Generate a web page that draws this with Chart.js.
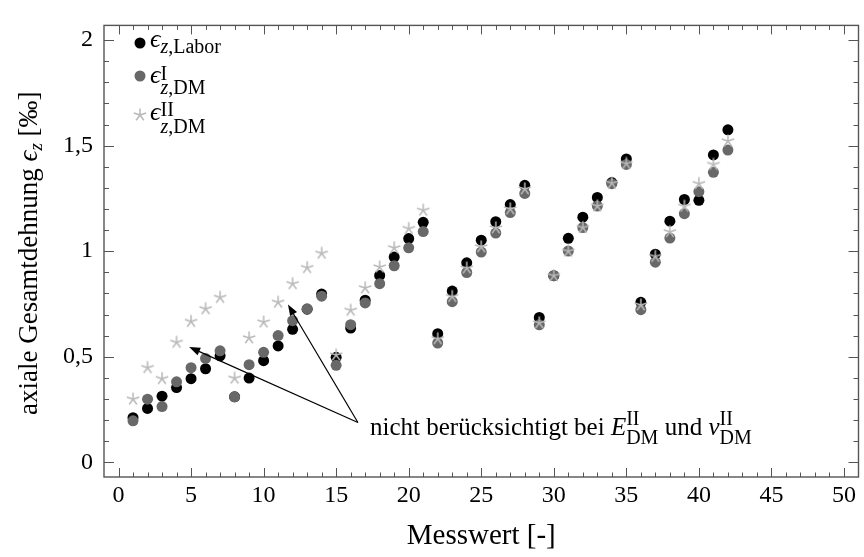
<!DOCTYPE html>
<html>
<head>
<meta charset="utf-8">
<script src="https://cdn.jsdelivr.net/npm/chart.js@4/dist/chart.umd.min.js"></script>
<style>
  body { margin: 0; background: #fff; }
  #wrap { width: 864px; height: 557px; }
</style>
</head>
<body>
<div id="wrap"><canvas id="grafik" width="864" height="557"></canvas></div>
<script>
// Messwerte
const messwert = [1, 2, 3, 4, 5, 6, 7, 8, 9, 10, 11, 12, 13, 14, 15, 16, 17, 18, 19, 20, 21,
                  22, 23, 24, 25, 26, 27, 28, 29, 30, 31, 32, 33, 34, 35, 36, 37, 38, 39, 40, 41, 42];

// epsilon_z,Labor
const labor = [0.211, 0.255, 0.313, 0.354, 0.396, 0.443, 0.504, 0.310, 0.399, 0.481, 0.551, 0.630, 0.725, 0.797,
               0.497, 0.636, 0.768, 0.885, 0.972, 1.060, 1.137, 0.609, 0.811, 0.945, 1.052, 1.140, 1.221, 1.312,
               0.686, 0.884, 1.061, 1.161, 1.255, 1.325, 1.437, 0.758, 0.986, 1.142, 1.245, 1.241, 1.456, 1.575];

// epsilon^I_z,DM
const dm1 = [0.196, 0.299, 0.264, 0.381, 0.448, 0.492, 0.528, 0.310, 0.462, 0.521, 0.600, 0.671, 0.727, 0.787,
             0.459, 0.652, 0.755, 0.846, 0.931, 1.016, 1.093, 0.565, 0.761, 0.899, 0.996, 1.086, 1.183, 1.274,
             0.651, 0.884, 1.001, 1.112, 1.214, 1.320, 1.411, 0.723, 0.948, 1.062, 1.178, 1.282, 1.374, 1.479];

// epsilon^II_z,DM
const dm2 = [0.299, 0.448, 0.396, 0.568, 0.667, 0.727, 0.781, 0.398, 0.589, 0.664, 0.758, 0.846, 0.922, 0.990,
             0.508, 0.720, 0.826, 0.925, 1.016, 1.107, 1.194, 0.585, 0.785, 0.920, 1.020, 1.110, 1.200, 1.295,
             0.660, 0.884, 1.000, 1.112, 1.214, 1.322, 1.415, 0.745, 0.975, 1.092, 1.213, 1.320, 1.411, 1.522];

const xTicks = [0, 5, 10, 15, 20, 25, 30, 35, 40, 45, 50];
const yTicks = [0, 0.5, 1, 1.5, 2];

// Pfeile der Anmerkung (Datenkoordinaten)
const pfeilStart = { x: 16.5, y: 0.188 };
const pfeilZiele = [{ x: 4.87, y: 0.546 }, { x: 11.68, y: 0.747 }];

const SERIF = "'Liberation Serif', 'DejaVu Serif', serif";
const F = (size, italic) => (italic ? "italic " : "") + size + "px " + SERIF;

const SCHWARZ = "#000000";
const GRAU = "#686868";
const HELLGRAU = "#b8b8b8";
const RAHMEN = "#555555";

// Stern-Marker (5 Strahlen)
function sternBild(farbe) {
    const c = document.createElement("canvas");
    c.width = 16; c.height = 16;
    const g = c.getContext("2d");
    g.strokeStyle = farbe;
    g.lineWidth = 1.5;
    g.beginPath();
    for (let k = 0; k < 5; k++) {
        const a = -Math.PI / 2 + k * 2 * Math.PI / 5;
        g.moveTo(8, 8);
        g.lineTo(8 + 6.5 * Math.cos(a), 8 + 6.5 * Math.sin(a));
    }
    g.stroke();
    return c;
}
const stern = sternBild(HELLGRAU);

// Text mit Hoch-/Tiefstellung zeichnen
function teile(ctx, x, y, parts) {
    for (const p of parts) {
        if (p.sub !== undefined) {
            let w = 0;
            if (p.sup) {
                ctx.font = F(20, false);
                ctx.fillText(p.sup, x, y + p.supDy);
                w = ctx.measureText(p.sup).width;
            }
            let sx = x;
            for (const s of p.sub) {
                ctx.font = s.font;
                ctx.fillText(s.t, sx, y + p.subDy);
                sx += ctx.measureText(s.t).width;
            }
            x += Math.max(w, sx - x);
        } else {
            ctx.font = p.font;
            ctx.fillText(p.t, x, y + (p.dy || 0));
            x += ctx.measureText(p.t).width;
        }
    }
    return x;
}

const rahmenPlugin = {
    id: "rahmen",
    afterDatasetsDraw(chart) {
        const { ctx, chartArea: a, scales: { x, y } } = chart;
        ctx.save();
        ctx.strokeStyle = RAHMEN;
        ctx.lineWidth = 1;
        ctx.beginPath();
        for (let v = 0; v <= 50; v++) {
            const px = Math.round(x.getPixelForValue(v)) + 0.5;
            const len = v % 5 === 0 ? 9 : 4.5;
            ctx.moveTo(px, a.bottom); ctx.lineTo(px, a.bottom - len);
            ctx.moveTo(px, a.top); ctx.lineTo(px, a.top + len);
        }
        for (let i = 0; i <= 20; i++) {
            const py = Math.round(y.getPixelForValue(i / 10)) + 0.5;
            const len = i % 5 === 0 ? 10 : 5;
            ctx.moveTo(a.left, py); ctx.lineTo(a.left + len, py);
            ctx.moveTo(a.right, py); ctx.lineTo(a.right - len, py);
        }
        ctx.stroke();
        ctx.lineWidth = 1.4;
        ctx.strokeRect(a.left, a.top, a.right - a.left, a.bottom - a.top);
        ctx.restore();
    },
    afterDraw(chart) {
        const { ctx, scales: { x, y } } = chart;
        ctx.save();
        ctx.textBaseline = "alphabetic";
        ctx.textAlign = "left";

        // Legende
        ctx.beginPath(); ctx.fillStyle = SCHWARZ; ctx.arc(140, 43, 5.5, 0, 2 * Math.PI); ctx.fill();
        ctx.beginPath(); ctx.fillStyle = GRAU; ctx.arc(140, 76, 5.5, 0, 2 * Math.PI); ctx.fill();
        ctx.drawImage(stern, 140 - 8, 115 - 8);
        ctx.fillStyle = "#000";
        const zDM = [{ t: "z", font: F(20, true) }, { t: ",DM", font: F(20, false) }];
        teile(ctx, 150, 47, [
            { t: "ϵ", font: F(26, true) },
            { sub: [{ t: "z", font: F(20, true) }, { t: ",Labor", font: F(20, false) }], subDy: 6 }
        ]);
        teile(ctx, 150, 83, [
            { t: "ϵ", font: F(26, true) },
            { sup: "I", supDy: -3, sub: zDM, subDy: 11 }
        ]);
        teile(ctx, 150, 120, [
            { t: "ϵ", font: F(26, true) },
            { sup: "II", supDy: -4, sub: zDM, subDy: 13 }
        ]);

        // Anmerkung mit Pfeilen
        const sx = x.getPixelForValue(pfeilStart.x), sy = y.getPixelForValue(pfeilStart.y);
        ctx.strokeStyle = "#000";
        ctx.lineWidth = 1.2;
        for (const z of pfeilZiele) {
            const zx = x.getPixelForValue(z.x), zy = y.getPixelForValue(z.y);
            const ang = Math.atan2(zy - sy, zx - sx);
            const L = 11, B = 4;
            ctx.beginPath();
            ctx.moveTo(sx, sy);
            ctx.lineTo(zx - (L - 1) * Math.cos(ang), zy - (L - 1) * Math.sin(ang));
            ctx.stroke();
            ctx.beginPath();
            ctx.moveTo(zx, zy);
            ctx.lineTo(zx - L * Math.cos(ang) + B * Math.sin(ang), zy - L * Math.sin(ang) - B * Math.cos(ang));
            ctx.lineTo(zx - L * Math.cos(ang) - B * Math.sin(ang), zy - L * Math.sin(ang) + B * Math.cos(ang));
            ctx.closePath();
            ctx.fill();
        }
        const dm = [{ t: "DM", font: F(20, false) }];
        teile(ctx, 370, 435, [
            { t: "nicht berücksichtigt bei ", font: F(25, false) },
            { t: "E", font: F(25, true) },
            { sup: "II", supDy: -10, sub: dm, subDy: 9 },
            { t: " und ", font: F(25, false) },
            { t: "ν", font: F(25, true) },
            { sup: "II", supDy: -10, sub: dm, subDy: 9 }
        ]);

        // y-Achsentitel
        const titel = [
            { t: "axiale Gesamtdehnung ", font: F(27, false) },
            { t: "ϵ", font: F(27, true) },
            { t: "z", font: F(19, true), dy: 5 },
            { t: " [‰]", font: F(27, false) }
        ];
        let w = 0;
        for (const p of titel) { ctx.font = p.font; w += ctx.measureText(p.t).width; }
        ctx.translate(37, (chart.chartArea.top + chart.chartArea.bottom) / 2 + 2);
        ctx.rotate(-Math.PI / 2);
        teile(ctx, -w / 2, 0, titel);
        ctx.restore();
    }
};

const punkte = werte => messwert.map((m, i) => ({ x: m, y: werte[i] }));

new Chart(document.getElementById("grafik"), {
    type: "scatter",
    data: {
        datasets: [
            { label: "Labor", data: punkte(labor), backgroundColor: SCHWARZ, borderWidth: 0,
              pointRadius: 5.5, pointHoverRadius: 5.5, order: 3 },
            { label: "DM I", data: punkte(dm1), backgroundColor: GRAU, borderWidth: 0,
              pointRadius: 5.5, pointHoverRadius: 5.5, order: 2 },
            { label: "DM II", data: punkte(dm2), pointStyle: stern, order: 1 }
        ]
    },
    options: {
        responsive: false,
        animation: false,
        events: [],
        layout: { padding: { top: 10, right: 4, left: 0, bottom: 0 } },
        plugins: { legend: { display: false }, tooltip: { enabled: false } },
        scales: {
            x: {
                type: "linear", min: -1, max: 51,
                grid: { display: false, drawTicks: false },
                border: { display: false },
                afterBuildTicks: s => { s.ticks = xTicks.map(v => ({ value: v })); },
                afterFit: s => { s.height = 80; },
                ticks: { padding: 4, color: "#000", font: { family: SERIF, size: 24 }, maxRotation: 0, autoSkip: false },
                title: { display: true, text: "Messwert [-]", color: "#000",
                         font: { family: SERIF, size: 29 }, padding: { top: 0, bottom: 3 } }
            },
            y: {
                min: -0.07, max: 2.07,
                grid: { display: false, drawTicks: false },
                border: { display: false },
                afterBuildTicks: s => { s.ticks = yTicks.map(v => ({ value: v })); },
                afterFit: s => { s.width = 104; },
                ticks: { padding: 11, color: "#000", font: { family: SERIF, size: 24 },
                         callback: v => String(v).replace(".", ",") }
            }
        }
    },
    plugins: [rahmenPlugin]
});
</script>
</body>
</html>
